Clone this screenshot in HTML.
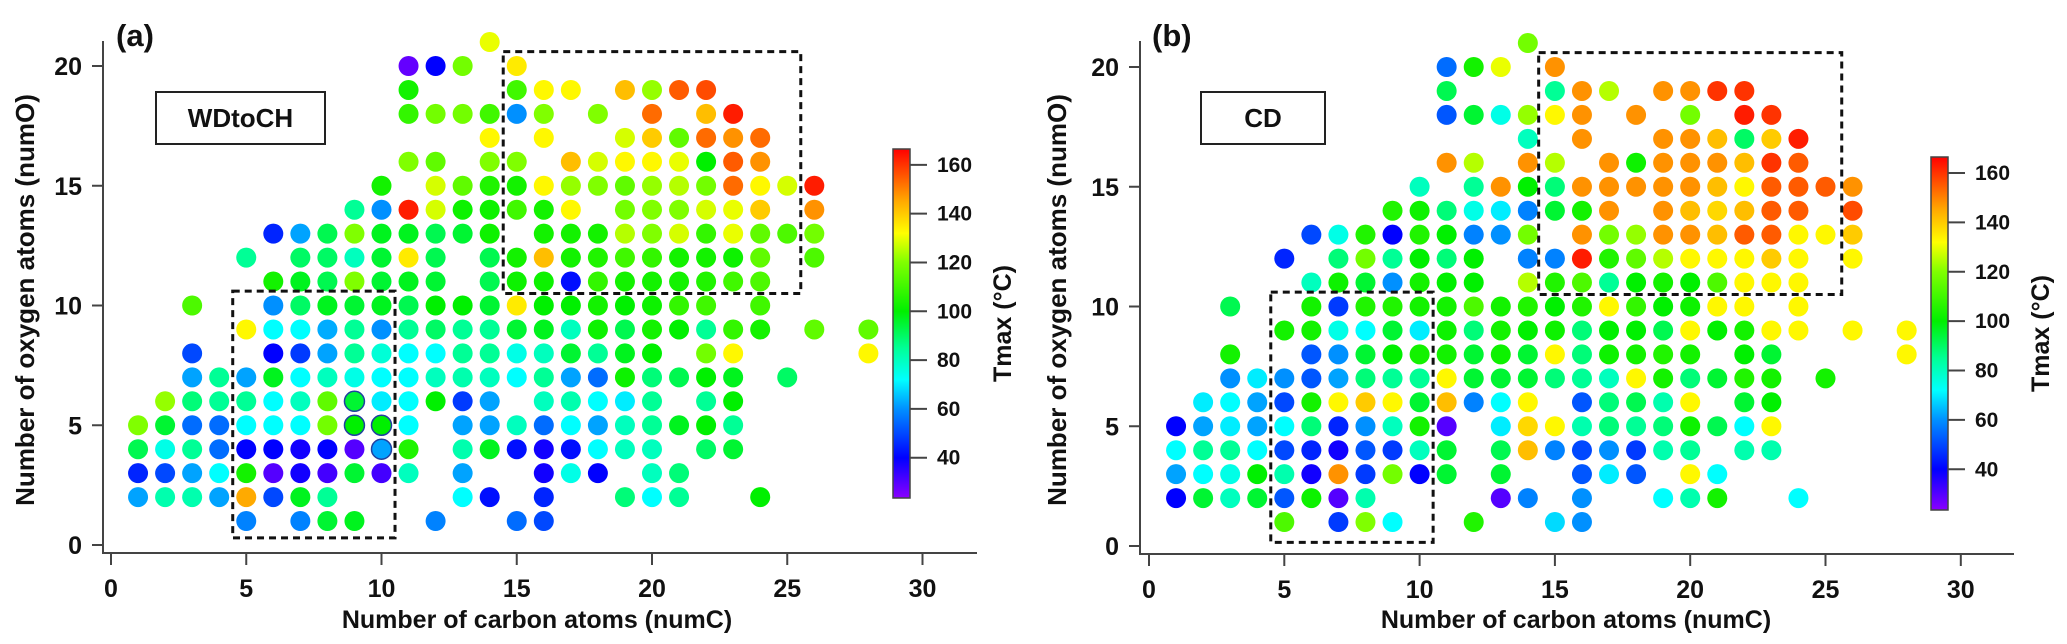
<!DOCTYPE html>
<html><head><meta charset="utf-8"><style>
html,body{margin:0;padding:0;background:#fff;}
svg{display:block;font-family:"Liberation Sans",Arial,sans-serif;}
</style></head><body>
<svg id="chart" width="2067" height="644" viewBox="0 0 2067 644" xmlns="http://www.w3.org/2000/svg"></svg>
<script>
// Panel (a) WDtoCH points: [numC, numO, Tmax]
const aPoints = [
[14,21,130],
[11,20,28],[12,20,40],[13,20,118],[15,20,135],
[11,19,103],[15,19,110],[16,19,133],[17,19,133],[19,19,142],[20,19,122],[21,19,155],[22,19,157],
[11,18,108],[12,18,118],[13,18,118],[14,18,110],[15,18,60],[16,18,120],[18,18,120],[20,18,153],[22,18,142],[23,18,163],
[14,17,133],[16,17,133],[19,17,128],[20,17,140],[21,17,115],[22,17,153],[23,17,148],[24,17,153],
[11,16,120],[12,16,115],[14,16,120],[15,16,120],[17,16,142],[18,16,128],[19,16,133],[20,16,133],[21,16,130],[22,16,100],[23,16,155],[24,16,148],
[10,15,103],[12,15,128],[13,15,115],[14,15,105],[15,15,103],[16,15,133],[17,15,122],[18,15,120],[19,15,115],[20,15,122],[21,15,125],[22,15,118],[23,15,153],[24,15,133],[25,15,128],[26,15,163],
[9,14,85],[10,14,60],[11,14,163],[12,14,128],[13,14,102],[14,14,102],[15,14,110],[16,14,103],[17,14,133],[19,14,118],[20,14,120],[21,14,120],[22,14,128],[23,14,130],[24,14,140],[26,14,148],
[6,13,45],[7,13,62],[8,13,92],[9,13,120],[10,13,97],[11,13,97],[12,13,92],[13,13,95],[14,13,102],[16,13,103],[17,13,103],[18,13,103],[19,13,125],[20,13,120],[21,13,128],[22,13,108],[23,13,130],[24,13,115],[25,13,112],[26,13,118],
[5,12,85],[7,12,90],[8,12,90],[9,12,80],[10,12,95],[11,12,135],[12,12,92],[14,12,92],[15,12,103],[16,12,142],[17,12,103],[18,12,105],[19,12,110],[20,12,108],[21,12,103],[22,12,103],[23,12,102],[24,12,115],[26,12,112],
[6,11,103],[7,11,97],[8,11,92],[9,11,120],[10,11,95],[11,11,97],[12,11,95],[14,11,92],[15,11,102],[16,11,102],[17,11,42],[18,11,108],[19,11,103],[20,11,103],[21,11,103],[22,11,105],[23,11,110],[24,11,112],
[3,10,112],[6,10,60],[7,10,90],[8,10,97],[9,10,95],[10,10,97],[11,10,92],[12,10,100],[13,10,100],[14,10,95],[15,10,135],[16,10,100],[17,10,100],[18,10,103],[19,10,100],[20,10,102],[21,10,108],[22,10,110],[24,10,110],
[5,9,133],[6,9,72],[7,9,72],[8,9,63],[9,9,85],[10,9,60],[11,9,85],[12,9,90],[13,9,85],[14,9,85],[15,9,95],[16,9,97],[17,9,80],[18,9,102],[19,9,92],[20,9,103],[21,9,100],[22,9,85],[23,9,108],[24,9,103],[26,9,115],[28,9,115],
[3,8,50],[6,8,40],[7,8,48],[8,8,62],[9,8,85],[10,8,77],[11,8,72],[12,8,72],[13,8,85],[14,8,85],[15,8,75],[16,8,80],[17,8,95],[18,8,85],[19,8,97],[20,8,100],[22,8,118],[23,8,133],[28,8,133],
[3,7,62],[4,7,85],[5,7,62],[6,7,97],[7,7,72],[8,7,80],[9,7,75],[10,7,72],[11,7,72],[12,7,80],[13,7,82],[14,7,80],[15,7,72],[16,7,85],[17,7,62],[18,7,55],[19,7,102],[20,7,88],[21,7,92],[22,7,100],[23,7,97],[25,7,90],
[2,6,122],[3,6,88],[4,6,85],[5,6,85],[6,6,72],[7,6,80],[8,6,115],[9,6,95],[10,6,70],[11,6,72],[12,6,100],[13,6,48],[14,6,62],[16,6,80],[17,6,82],[18,6,72],[19,6,70],[20,6,85],[22,6,85],[23,6,100],
[1,5,120],[2,5,95],[3,5,55],[4,5,55],[5,5,72],[6,5,72],[7,5,72],[8,5,118],[9,5,100],[10,5,100],[11,5,72],[13,5,62],[14,5,62],[15,5,80],[16,5,55],[17,5,72],[18,5,62],[19,5,80],[20,5,85],[21,5,97],[22,5,100],[23,5,85],
[1,4,92],[2,4,75],[3,4,85],[4,4,55],[5,4,40],[6,4,40],[7,4,38],[8,4,40],[9,4,30],[10,4,62],[11,4,105],[13,4,82],[14,4,97],[15,4,42],[16,4,38],[17,4,42],[18,4,72],[19,4,80],[20,4,80],[22,4,90],[23,4,95],
[1,3,45],[2,3,50],[3,3,62],[4,3,72],[5,3,103],[6,3,30],[7,3,38],[8,3,32],[9,3,95],[10,3,32],[11,3,80],[13,3,62],[16,3,38],[17,3,75],[18,3,40],[20,3,80],[21,3,88],
[1,2,62],[2,2,82],[3,2,82],[4,2,62],[5,2,145],[6,2,50],[7,2,97],[8,2,85],[13,2,72],[14,2,42],[16,2,45],[19,2,88],[20,2,72],[21,2,85],[24,2,100],
[5,1,58],[7,1,58],[8,1,95],[9,1,97],[12,1,58],[15,1,55],[16,1,50]
];
// outlined points in panel (a): [numC, numO]
const aOutlined = [[9,6],[9,5],[10,5],[10,4]];
// Panel (b) CD points: [numC, numO, Tmax]
const bPoints = [
[14,21,118],
[11,20,55],[12,20,103],[13,20,130],[15,20,148],
[11,19,92],[15,19,85],[16,19,148],[17,19,125],[19,19,148],[20,19,148],[21,19,160],[22,19,160],
[11,18,52],[12,18,95],[13,18,75],[14,18,122],[15,18,133],[16,18,148],[18,18,148],[20,18,118],[22,18,163],[23,18,160],
[14,17,80],[16,17,148],[19,17,148],[20,17,148],[21,17,142],[22,17,90],[23,17,140],[24,17,163],
[11,16,148],[12,16,125],[14,16,148],[15,16,125],[17,16,148],[18,16,102],[19,16,148],[20,16,148],[21,16,148],[22,16,142],[23,16,160],[24,16,155],
[10,15,80],[12,15,85],[13,15,148],[14,15,100],[15,15,88],[16,15,148],[17,15,148],[18,15,148],[19,15,148],[20,15,148],[21,15,142],[22,15,133],[23,15,155],[24,15,155],[25,15,155],[26,15,148],
[9,14,105],[10,14,102],[11,14,88],[12,14,75],[13,14,70],[14,14,58],[15,14,95],[16,14,103],[17,14,148],[19,14,148],[20,14,142],[21,14,138],[22,14,142],[23,14,155],[24,14,155],[26,14,157],
[6,13,50],[7,13,75],[8,13,105],[9,13,40],[10,13,105],[11,13,100],[12,13,58],[13,13,60],[14,13,118],[16,13,148],[17,13,118],[18,13,122],[19,13,148],[20,13,148],[21,13,142],[22,13,155],[23,13,155],[24,13,133],[25,13,133],[26,13,140],
[5,12,45],[7,12,88],[8,12,118],[9,12,85],[10,12,100],[11,12,88],[12,12,100],[14,12,58],[15,12,58],[16,12,163],[17,12,105],[18,12,115],[19,12,125],[20,12,133],[21,12,133],[22,12,133],[23,12,140],[24,12,133],[26,12,133],
[6,11,80],[7,11,102],[8,11,95],[9,11,60],[10,11,103],[11,11,100],[12,11,100],[14,11,125],[15,11,105],[16,11,112],[17,11,85],[18,11,100],[19,11,103],[20,11,100],[21,11,112],[22,11,133],[23,11,133],[24,11,133],
[3,10,92],[6,10,103],[7,10,48],[8,10,105],[9,10,105],[10,10,103],[11,10,103],[12,10,112],[13,10,103],[14,10,105],[15,10,100],[16,10,105],[17,10,133],[18,10,108],[19,10,100],[20,10,102],[21,10,133],[22,10,133],[24,10,133],
[5,9,103],[6,9,103],[7,9,75],[8,9,72],[9,9,95],[10,9,70],[11,9,102],[12,9,88],[13,9,103],[14,9,100],[15,9,102],[16,9,88],[17,9,100],[18,9,100],[19,9,92],[20,9,133],[21,9,100],[22,9,103],[23,9,133],[24,9,133],[26,9,133],[28,9,133],
[3,8,103],[6,8,52],[7,8,60],[8,8,95],[9,8,100],[10,8,103],[11,8,103],[12,8,95],[13,8,102],[14,8,95],[15,8,133],[16,8,88],[17,8,102],[18,8,103],[19,8,105],[20,8,103],[22,8,100],[23,8,95],[28,8,133],
[3,7,60],[4,7,70],[5,7,60],[6,7,52],[7,7,62],[8,7,88],[9,7,85],[10,7,85],[11,7,133],[12,7,95],[13,7,95],[14,7,95],[15,7,88],[16,7,85],[17,7,80],[18,7,133],[19,7,103],[20,7,88],[21,7,95],[22,7,105],[23,7,103],[25,7,103],
[2,6,70],[3,6,72],[4,6,62],[5,6,50],[6,6,103],[7,6,133],[8,6,140],[9,6,133],[10,6,95],[11,6,142],[12,6,58],[13,6,72],[14,6,133],[16,6,52],[17,6,88],[18,6,92],[19,6,82],[20,6,133],[22,6,95],[23,6,100],
[1,5,40],[2,5,62],[3,5,70],[4,5,62],[5,5,72],[6,5,88],[7,5,45],[8,5,60],[9,5,80],[10,5,103],[11,5,30],[13,5,70],[14,5,138],[15,5,133],[16,5,82],[17,5,88],[18,5,85],[19,5,88],[20,5,102],[21,5,92],[22,5,72],[23,5,133],
[1,4,72],[2,4,85],[3,4,85],[4,4,72],[5,4,50],[6,4,45],[7,4,38],[8,4,52],[9,4,48],[10,4,80],[11,4,95],[13,4,92],[14,4,142],[15,4,58],[16,4,50],[17,4,60],[18,4,48],[19,4,82],[20,4,85],[22,4,82],[23,4,82],
[1,3,62],[2,3,72],[3,3,75],[4,3,100],[5,3,82],[6,3,38],[7,3,148],[8,3,48],[9,3,118],[10,3,40],[11,3,95],[13,3,95],[16,3,52],[17,3,70],[18,3,52],[20,3,133],[21,3,72],
[1,2,40],[2,2,95],[3,2,80],[4,2,95],[5,2,52],[6,2,102],[7,2,30],[8,2,82],[13,2,30],[14,2,58],[16,2,60],[19,2,72],[20,2,82],[21,2,103],[24,2,72],
[5,1,112],[7,1,48],[8,1,120],[9,1,72],[12,1,105],[15,1,68],[16,1,60]
];
const xTicks = [0,5,10,15,20,25,30];
const yTicks = [0,5,10,15,20];
const cbTicks = [40,60,80,100,120,140,160];
const cbRange = [23.5,166.5];

const NS = 'http://www.w3.org/2000/svg';
const svg = document.getElementById('chart');
function mk(tag, attrs, parent){ const e=document.createElementNS(NS,tag); for(const k in attrs) e.setAttribute(k,attrs[k]); (parent||svg).appendChild(e); return e; }

const stops = [[23.5,[138,0,255]],[40,[0,0,255]],[60,[0,144,255]],[72,[0,255,255]],[85,[0,255,150]],[100,[0,240,0]],[120,[128,255,0]],[132,[255,255,0]],[145,[255,170,0]],[166.5,[255,0,0]]];
function cmap(v){
  if(v<=stops[0][0]) return 'rgb('+stops[0][1]+')';
  for(let i=1;i<stops.length;i++){
    if(v<=stops[i][0]){ const t=(v-stops[i-1][0])/(stops[i][0]-stops[i-1][0]); const a=stops[i-1][1], b=stops[i][1];
      return 'rgb('+a.map((c,j)=>Math.round(c+(b[j]-c)*t)).join(',')+')'; }
  }
  return 'rgb(255,0,0)';
}

function panel(cfg){
  const g = mk('g',{});
  
  
  const X = v => cfg.x0 + v*cfg.ux;
  const Y = v => cfg.y0 - v*cfg.uy;
  const ax = mk('path',{d:`M${cfg.axL},${cfg.axT} L${cfg.axL},${cfg.axB} L${cfg.axR},${cfg.axB}`,fill:'none',stroke:'#444','stroke-width':2},g);
  
  
  xTicks.forEach(t=>{
    mk('line',{x1:X(t),x2:X(t),y1:cfg.axB,y2:cfg.axB+12,stroke:'#444','stroke-width':2},g);
    const tx = mk('text',{x:X(t),y:cfg.axB+44,'text-anchor':'middle','font-size':25,'font-weight':'bold',fill:'#111'},g);
    tx.textContent=t;
    
    
  });
  yTicks.forEach(t=>{
    mk('line',{x1:cfg.axL-11,x2:cfg.axL,y1:Y(t),y2:Y(t),stroke:'#444','stroke-width':2},g);
    const ty = mk('text',{x:cfg.axL-21,y:Y(t)+9,'text-anchor':'end','font-size':25,'font-weight':'bold',fill:'#111'},g);
    ty.textContent=t;
    
    
  });
  const xt = mk('text',{x:cfg.xTitleX,y:628,'text-anchor':'middle','font-size':25,'font-weight':'bold',fill:'#111'},g);
  xt.textContent='Number of carbon atoms (numC)';
  
  
  const yt = mk('text',{x:0,y:0,transform:`translate(${cfg.yTitleX},300) rotate(-90)`,'text-anchor':'middle','font-size':26,'font-weight':'bold',fill:'#111'},g);
  yt.textContent='Number of oxygen atoms (numO)';
  
  
  const pl = mk('text',{x:cfg.labelX,y:46,'font-size':31,'font-weight':'bold',fill:'#111'},g);
  pl.textContent=cfg.label;
  
  
  const bx = mk('rect',{x:cfg.box[0],y:cfg.box[1],width:cfg.box[2],height:cfg.box[3],fill:'#fff',stroke:'#222','stroke-width':2},g);
  
  
  const bt = mk('text',{x:cfg.box[0]+cfg.box[2]/2,y:cfg.box[1]+cfg.box[3]/2+9,'text-anchor':'middle','font-size':26,'font-weight':'bold',fill:'#111'},g);
  bt.textContent=cfg.method;
  
  
  cfg.points.forEach(p=>{
    const c = mk('circle',{cx:X(p[0]),cy:Y(p[1]),r:10,fill:cmap(p[2])},g);
    
    
  });
  (cfg.outlined||[]).forEach(p=>{
    const c = mk('circle',{cx:X(p[0]),cy:Y(p[1]),r:10,fill:'none',stroke:'#2040a0','stroke-width':1.5},g);
    
    
  });
  cfg.rects.forEach(r=>{
    const e = mk('rect',{x:X(r[0]),y:Y(r[3]),width:X(r[1])-X(r[0]),height:Y(r[2])-Y(r[3]),fill:'none',stroke:'#111','stroke-width':3,'stroke-dasharray':'7,5'},g);
    
    
  });
  const cb = cfg.cb; const cbY = v => cb.bot - (v-cbRange[0])/(cbRange[1]-cbRange[0])*(cb.bot-cb.top);
  const defs = mk('defs',{},g);
  const lg = mk('linearGradient',{id:cfg.name+'-grad',x1:0,y1:1,x2:0,y2:0},defs);
  stops.forEach(s=>mk('stop',{offset:((s[0]-cbRange[0])/(cbRange[1]-cbRange[0])),'stop-color':'rgb('+s[1]+')'},lg));
  const cr = mk('rect',{x:cb.x,y:cb.top,width:17,height:cb.bot-cb.top,fill:`url(#${cfg.name}-grad)`,stroke:'#444','stroke-width':1.5},g);
  
  
  cbTicks.forEach(t=>{
    mk('line',{x1:cb.x+17,x2:cb.x+34,y1:cbY(t),y2:cbY(t),stroke:'#444','stroke-width':2},g);
    const ct = mk('text',{x:cb.x+44,y:cbY(t)+7,'font-size':21,'font-weight':'bold',fill:'#111'},g);
    ct.textContent=t;
    
    
  });
  const ctl = mk('text',{x:0,y:0,transform:`translate(${cb.x+118},${(cb.top+cb.bot)/2}) rotate(-90)`,'text-anchor':'middle','font-size':25,'font-weight':'bold',fill:'#111'},g);
  ctl.textContent='Tmax (°C)';
  
  
}

panel({name:'panel-a',label:'(a)',method:'WDtoCH',x0:111,ux:27.05,y0:545,uy:23.95,axL:103,axR:977,axT:41,axB:553,
  xTitleX:537,yTitleX:34,labelX:116,box:[156,92,169,52],points:aPoints,outlined:aOutlined,
  rects:[[4.5,10.5,0.3,10.6],[14.5,25.5,10.5,20.6]],cb:{x:893,top:149,bot:498}});
panel({name:'panel-b',label:'(b)',method:'CD',x0:1149,ux:27.06,y0:546,uy:23.95,axL:1140,axR:2014,axT:41,axB:554,
  xTitleX:1576,yTitleX:1066,labelX:1152,box:[1201,92,124,52],points:bPoints,
  rects:[[4.5,10.5,0.15,10.6],[14.4,25.6,10.5,20.6]],cb:{x:1931,top:157,bot:510}});
</script>
</body></html>
